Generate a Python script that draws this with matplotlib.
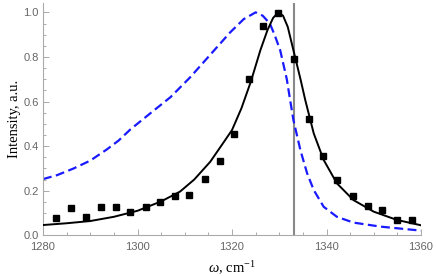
import matplotlib
matplotlib.use("Agg")
from matplotlib import pyplot as plt
from matplotlib.ticker import MultipleLocator

# measured points
exp_w = [1282.8, 1285.9, 1289.1, 1292.3, 1295.4, 1298.5, 1301.7, 1304.8, 1308.0,
         1311.0, 1314.3, 1317.5, 1320.5, 1323.6, 1326.6, 1329.8, 1333.1, 1336.3,
         1339.3, 1342.3, 1345.7, 1348.8, 1351.8, 1355.0, 1358.2]
exp_i = [0.078, 0.121, 0.083, 0.126, 0.125, 0.104, 0.127, 0.148, 0.178,
         0.181, 0.252, 0.333, 0.453, 0.702, 0.939, 0.998, 0.789, 0.521,
         0.356, 0.248, 0.175, 0.131, 0.115, 0.070, 0.067]

# fitted curve (black)
fit_w = [1280, 1285, 1290, 1295, 1300, 1305, 1309, 1312, 1315.4, 1318, 1320, 1322,
         1324, 1326, 1327.5, 1328.7, 1329.8, 1330.8, 1331.8, 1333, 1334.5, 1335.5, 1337.3,
         1339.4, 1342.2, 1345.7, 1350, 1354.9, 1360]
fit_i = [0.046, 0.054, 0.064, 0.083, 0.110, 0.152, 0.196, 0.25, 0.33, 0.41, 0.472, 0.57,
         0.69, 0.83, 0.92, 0.975, 1.0, 0.985, 0.935, 0.83, 0.70, 0.607, 0.457,
         0.338, 0.233, 0.158, 0.106, 0.069, 0.045]

# calculated curve (blue dashed)
calc_w = [1280, 1283, 1286.5, 1290, 1293.5, 1296, 1298.5, 1302.7, 1307, 1311.2, 1315.4,
          1319.6, 1322.5, 1325, 1326.5, 1328, 1329, 1330.2, 1331.6, 1332.3, 1333.0,
          1334.5, 1335.9, 1337.3, 1339.4, 1342.2, 1345.7, 1351.4, 1360]
calc_i = [0.252, 0.27, 0.30, 0.335, 0.385, 0.425, 0.475, 0.547, 0.62, 0.71, 0.81,
          0.91, 0.97, 1.0, 0.985, 0.95, 0.90, 0.83, 0.70, 0.607, 0.517,
          0.38, 0.278, 0.203, 0.128, 0.083, 0.057, 0.039, 0.021]

raman_line = 1333.2

plt.rcParams['mathtext.fontset'] = 'custom'
plt.rcParams['mathtext.rm'] = 'Liberation Serif'
plt.rcParams['mathtext.it'] = 'Liberation Serif:italic'

fig = plt.figure(figsize=(4.36, 2.76), dpi=100)
ax = fig.add_axes([43 / 436, 1 - 235.3 / 276, 378 / 436, 232.3 / 276])

ax.axvline(raman_line, color='#888888', lw=1.5, zorder=1)
ax.plot(calc_w, calc_i, color='#1a1aff', lw=1.6, ls=(0, (4, 2)), zorder=2)
ax.plot(fit_w, fit_i, color='black', lw=1.4, zorder=3)
ax.plot(exp_w, exp_i, 's', color='black', ms=4.2, zorder=4)

ax.set_xlim(1280, 1360)
ax.set_ylim(0, 1.042)
ax.xaxis.set_major_locator(MultipleLocator(20))
ax.xaxis.set_minor_locator(MultipleLocator(5))
ax.yaxis.set_major_locator(MultipleLocator(0.2))
ax.yaxis.set_minor_locator(MultipleLocator(0.05))
ax.yaxis.set_major_formatter(matplotlib.ticker.FormatStrFormatter('%.1f'))

for side in ['top', 'right']:
    ax.spines[side].set_visible(False)
for side in ['left', 'bottom']:
    ax.spines[side].set_color('#aaaaaa')
    ax.spines[side].set_linewidth(0.8)

ax.tick_params(which='both', direction='in', color='#aaaaaa', width=0.7,
               labelcolor='#666666', labelsize=8, labelfontfamily='Liberation Sans')
ax.tick_params(which='major', length=4)
ax.tick_params(which='minor', length=2.5)
ax.tick_params(axis='x', which='major', pad=4.5)
ax.tick_params(axis='y', which='major', pad=3)

ax.set_xlabel(r'$\omega$, cm$^{-1}$', fontfamily='Liberation Serif', fontsize=10.5, labelpad=6)
ax.set_ylabel('Intensity, a.u.', fontfamily='Liberation Serif', fontsize=10.5, labelpad=2)

plt.savefig("out.png", dpi=100)
